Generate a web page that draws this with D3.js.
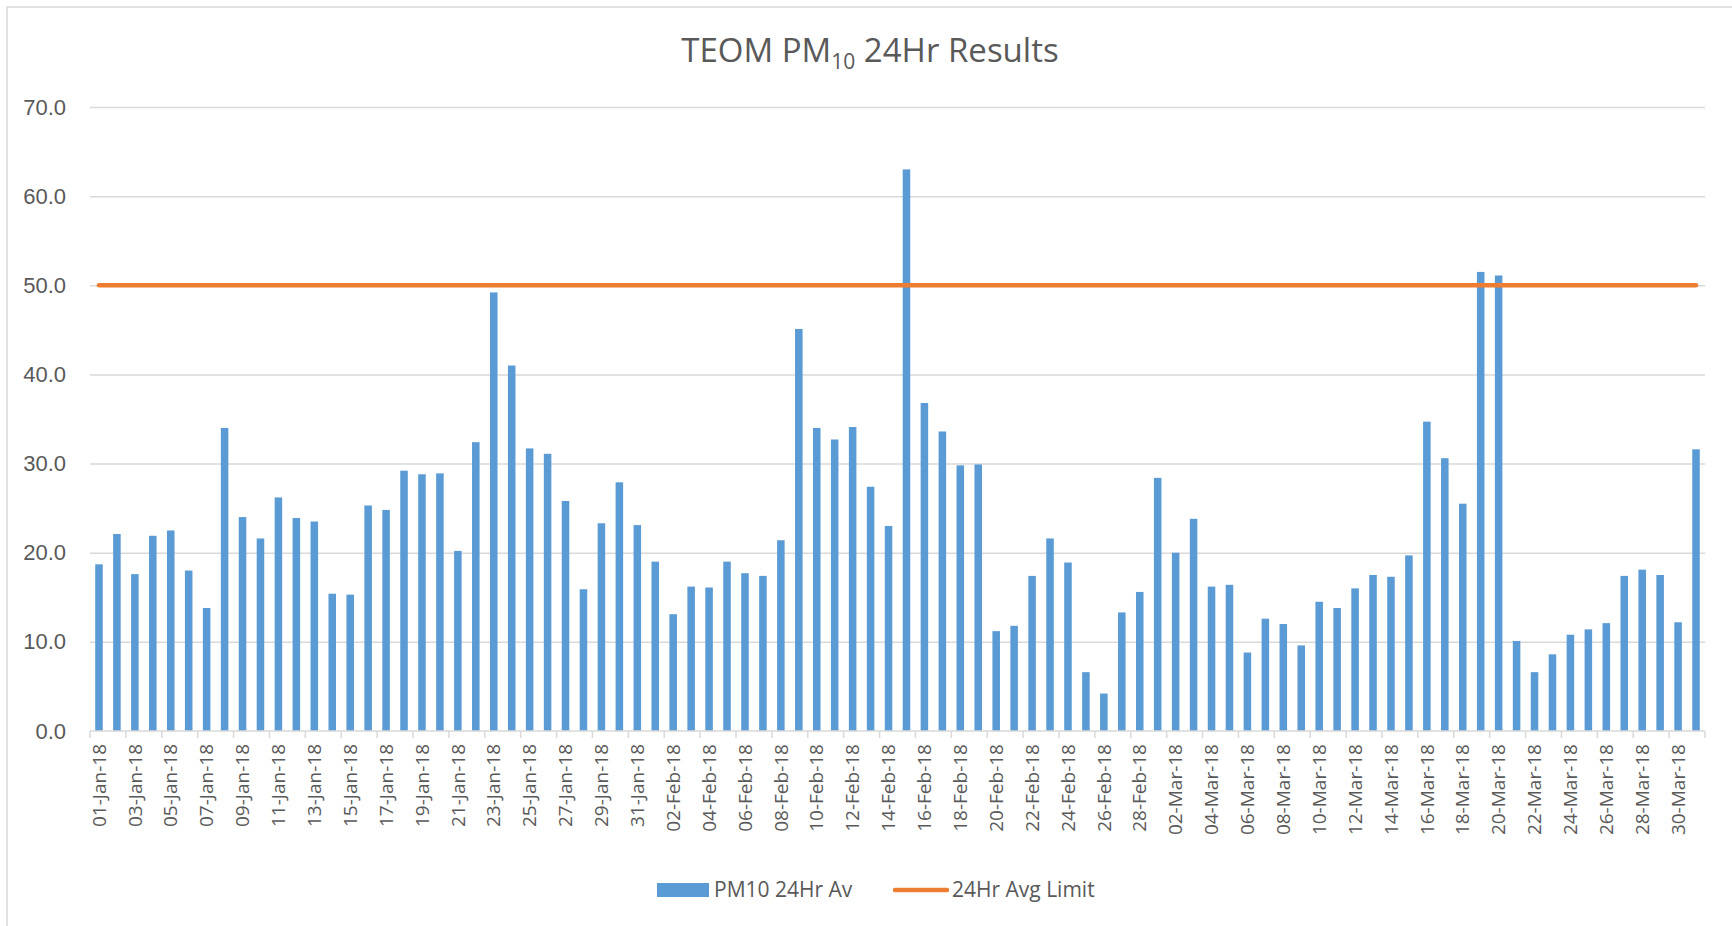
<!DOCTYPE html>
<html>
<head>
<meta charset="utf-8">
<script src="https://cdn.jsdelivr.net/npm/d3@7"></script>
<style>
  body { margin: 0; background: #fff; }
  svg { display: block; font-family: "Open Sans", sans-serif; }
  .grid line { stroke: #d9d9d9; stroke-width: 1.5; }
  .grid path { display: none; }
  .y-axis path, .y-axis line { display: none; }
  .y-axis text { fill: #595959; font-size: 22px; }
  .x-axis text { fill: #595959; font-size: 19px; }
</style>
</head>
<body>
<div class="chart-container"></div>
<script>
// Daily PM10 values, 01-Jan-18 .. 31-Mar-18
const pm10 = [
  18.7, 22.1, 17.6, 21.9, 22.5, 18.0, 13.8, 34.0, 24.0, 21.6,
  26.2, 23.9, 23.5, 15.4, 15.3, 25.3, 24.8, 29.2, 28.8, 28.9,
  20.2, 32.4, 49.2, 41.0, 31.7, 31.1, 25.8, 15.9, 23.3, 27.9,
  23.1, 19.0, 13.1, 16.2, 16.1, 19.0, 17.7, 17.4, 21.4, 45.1,
  34.0, 32.7, 34.1, 27.4, 23.0, 63.0, 36.8, 33.6, 29.8, 29.9,
  11.2, 11.8, 17.4, 21.6, 18.9, 6.6, 4.2, 13.3, 15.6, 28.4,
  20.0, 23.8, 16.2, 16.4, 8.8, 12.6, 12.0, 9.6, 14.5, 13.8,
  16.0, 17.5, 17.3, 19.7, 34.7, 30.6, 25.5, 51.5, 51.1, 10.1,
  6.6, 8.6, 10.8, 11.4, 12.1, 17.4, 18.1, 17.5, 12.2, 31.6
];
const limitValue = 50;
const yTicks = [0, 10, 20, 30, 40, 50, 60, 70];
const seriesNames = ["PM10 24Hr Av", "24Hr Avg Limit"];

// category labels: one per day
const fmt = d3.timeFormat("%d-%b-%y");
const days = d3.timeDays(new Date(2018, 0, 1), new Date(2018, 3, 1)).map(fmt);
const data = days.map((d, i) => ({ day: d, value: pm10[i], limit: limitValue }));

const W = 1732, H = 926;
const margin = { top: 107, right: 27, bottom: 195, left: 90 };
const width = W - margin.left - margin.right;
const height = H - margin.top - margin.bottom;

const svg = d3.select(".chart-container").append("svg")
  .attr("width", W).attr("height", H);

// chart border
svg.append("rect")
  .attr("x", 7).attr("y", 7).attr("width", 1800).attr("height", 1000)
  .attr("fill", "none").attr("stroke", "#d9d9d9").attr("stroke-width", 1.5);

// title with subscript
const title = svg.append("text")
  .attr("x", 870).attr("y", 62)
  .attr("text-anchor", "middle")
  .attr("fill", "#595959")
  .style("font-size", "33px");
title.append("tspan").text("TEOM PM");
title.append("tspan").attr("dy", 7).style("font-size", "21px").text("10");
title.append("tspan").attr("dy", -7).text(" 24Hr Results");

const g = svg.append("g").attr("transform", `translate(${margin.left},${margin.top})`);

const x = d3.scaleBand()
  .domain(days)
  .range([0, width])
  .paddingInner(0.58)
  .paddingOuter(0.29);

const y = d3.scaleLinear().domain([0, 70]).range([height, 0]);

// gridlines
g.append("g").attr("class", "grid")
  .call(d3.axisLeft(y).tickValues(yTicks.slice(1)).tickSize(-width).tickFormat(""));

// y axis labels
g.append("g").attr("class", "y-axis")
  .call(d3.axisLeft(y).tickValues(yTicks).tickSize(0).tickPadding(24).tickFormat(d3.format(".1f")));

// bars
g.selectAll(".bar")
  .data(data)
  .enter().append("rect")
  .attr("class", "bar")
  .attr("x", d => x(d.day))
  .attr("width", x.bandwidth())
  .attr("y", d => y(d.value))
  .attr("height", d => y(0) - y(d.value))
  .attr("fill", "#5b9bd5");

// x axis line + ticks on every second category boundary
const step = x.step();
const xa = g.append("g").attr("class", "x-axis").attr("transform", `translate(0,${height})`);
xa.append("line")
  .attr("x1", 0).attr("x2", width)
  .attr("stroke", "#d9d9d9").attr("stroke-width", 1.5);
xa.selectAll(".tick-mark")
  .data(d3.range(0, days.length + 1, 2))
  .enter().append("line")
  .attr("x1", i => i * step).attr("x2", i => i * step)
  .attr("y1", 0).attr("y2", 7)
  .attr("stroke", "#d9d9d9").attr("stroke-width", 1.5);

const labelDays = days.filter((d, i) => i % 2 === 0);
xa.selectAll(".lbl")
  .data(labelDays)
  .enter().append("text")
  .attr("transform", d => `translate(${x(d) + x.bandwidth() / 2},13) rotate(-90)`)
  .attr("text-anchor", "end")
  .attr("dy", "0.35em")
  .text(d => d);

// limit line
const line = d3.line()
  .x(d => x(d.day) + x.bandwidth() / 2)
  .y(d => y(d.limit));
g.append("path")
  .datum(data)
  .attr("d", line)
  .attr("fill", "none")
  .attr("stroke", "#ed7d31")
  .attr("stroke-width", 4.5)
  .attr("stroke-linecap", "round");

// legend
const leg = svg.append("g").style("font-size", "21px").attr("fill", "#595959");
leg.append("rect").attr("x", 657).attr("y", 883).attr("width", 52).attr("height", 14).attr("fill", "#5b9bd5");
leg.append("text").attr("x", 714).attr("y", 890).attr("dy", "0.35em").text(seriesNames[0]);
leg.append("line").attr("x1", 895).attr("x2", 947).attr("y1", 890).attr("y2", 890)
  .attr("stroke", "#ed7d31").attr("stroke-width", 4.5).attr("stroke-linecap", "round");
leg.append("text").attr("x", 952).attr("y", 890).attr("dy", "0.35em").text(seriesNames[1]);
</script>
</body>
</html>
